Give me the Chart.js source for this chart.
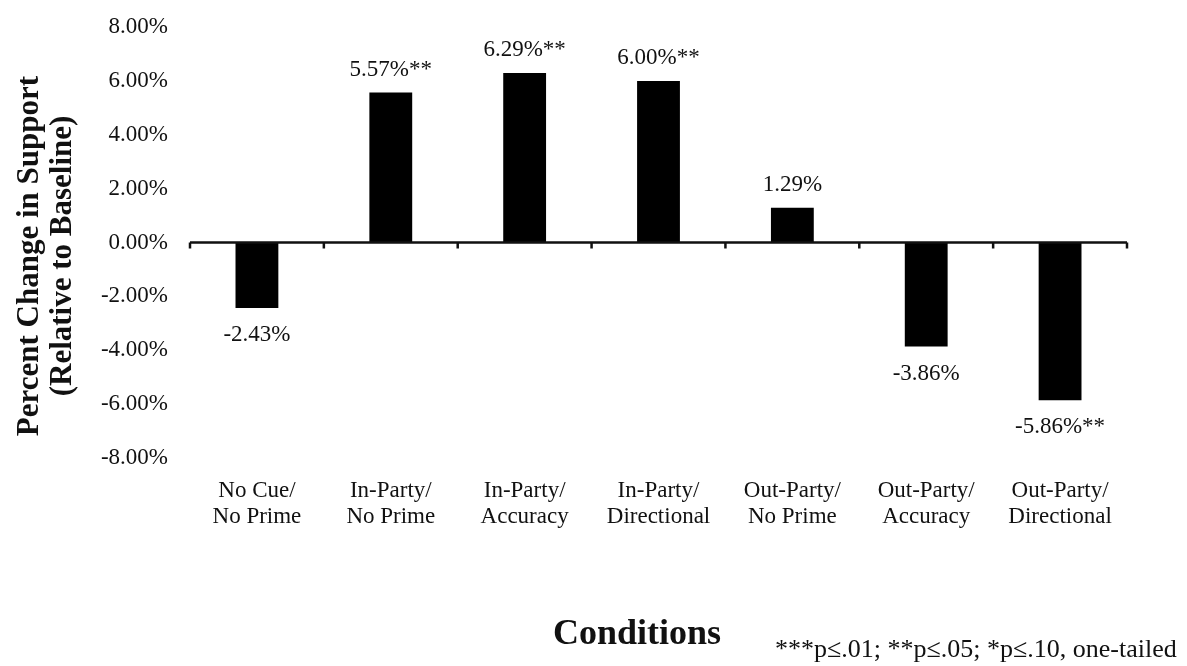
<!DOCTYPE html>
<html lang='en'>
<head>
  <meta charset='UTF-8'>
  <title>Percent Change in Support by Condition</title>
  <style>
    html, body { margin: 0; padding: 0; background: #fff; }
    #wrap { width: 1187px; height: 666px; position: relative; }
  </style>
  <script src="https://cdn.jsdelivr.net/npm/chart.js@4.4.1/dist/chart.umd.min.js"></script>
</head>
<body>
<div id="wrap"><canvas id="chart"></canvas></div>
<script>
  const categories = [
    ['No Cue/', 'No Prime'],
    ['In-Party/', 'No Prime'],
    ['In-Party/', 'Accuracy'],
    ['In-Party/', 'Directional'],
    ['Out-Party/', 'No Prime'],
    ['Out-Party/', 'Accuracy'],
    ['Out-Party/', 'Directional']
  ];
  const changes = [-2.43, 5.57, 6.29, 6.00, 1.29, -3.86, -5.86];
  const stars = ['', '**', '**', '**', '', '', '**'];
  const yTicks = [-8, -6, -4, -2, 0, 2, 4, 6, 8];
  const yTitle = ['Percent Change in Support', '(Relative to Baseline)'];
  const xTitle = 'Conditions';
  const footnote = '***p\u2264.01; **p\u2264.05; *p\u2264.10, one-tailed';

  const serif = "'Liberation Serif', 'Times New Roman', serif";
  Chart.defaults.font.family = serif;
  Chart.defaults.color = '#111';

  // zero line with category tick marks, bar value labels, titles and footnote
  const extras = {
    id: 'extras',
    afterDatasetsDraw(chart) {
      const { ctx, chartArea, scales } = chart;
      const y0 = scales.y.getPixelForValue(0);
      const step = (chartArea.right - chartArea.left) / categories.length;
      ctx.save();
      ctx.strokeStyle = '#111';
      ctx.lineWidth = 2.5;
      ctx.beginPath();
      ctx.moveTo(chartArea.left, y0);
      ctx.lineTo(chartArea.right, y0);
      for (let i = 0; i <= categories.length; i++) {
        const x = chartArea.left + i * step;
        ctx.moveTo(x, y0);
        ctx.lineTo(x, y0 + 6);
      }
      ctx.stroke();

      ctx.fillStyle = '#111';
      ctx.font = '23px ' + serif;
      ctx.textAlign = 'center';
      ctx.textBaseline = 'middle';
      chart.getDatasetMeta(0).data.forEach((bar, i) => {
        const v = changes[i];
        const txt = v.toFixed(2) + '%' + stars[i];
        const ty = v >= 0 ? bar.y - 23 : bar.y + 27;
        ctx.fillText(txt, bar.x, ty);
      });
      ctx.restore();
    },
    afterDraw(chart) {
      const { ctx } = chart;
      ctx.save();
      ctx.fillStyle = '#111';
      ctx.textBaseline = 'middle';
      ctx.textAlign = 'center';

      // y title, rotated
      ctx.save();
      ctx.translate(0, 256);
      ctx.rotate(-Math.PI / 2);
      ctx.font = 'bold 31px ' + serif;
      ctx.fillText(yTitle[0], 0, 30);
      ctx.fillText(yTitle[1], 0, 63);
      ctx.restore();

      ctx.font = 'bold 36px ' + serif;
      ctx.fillText(xTitle, 637, 635);
      ctx.textAlign = 'left';
      ctx.font = '26px ' + serif;
      ctx.fillText(footnote, 775, 650);
      ctx.restore();
    }
  };

  new Chart(document.getElementById('chart'), {
    type: 'bar',
    data: {
      labels: categories,
      datasets: [{
        data: changes,
        backgroundColor: '#000',
        borderWidth: 0,
        barPercentage: 0.32,
        categoryPercentage: 1
      }]
    },
    options: {
      responsive: true,
      maintainAspectRatio: false,
      animation: false,
      layout: { padding: { top: 27, right: 60, bottom: 0, left: 0 } },
      plugins: {
        legend: { display: false },
        tooltip: { enabled: false }
      },
      scales: {
        x: {
          grid: { display: false, drawTicks: false },
          border: { display: false },
          ticks: {
            padding: 20,
            maxRotation: 0,
            autoSkip: false,
            font: { size: 23, lineHeight: 1.13 },
            color: '#111'
          },
          afterFit(s) { s.height = 208; }
        },
        y: {
          min: -8,
          max: 8,
          grid: { display: false, drawTicks: false },
          border: { display: false },
          afterBuildTicks(s) { s.ticks = yTicks.map(v => ({ value: v })); },
          ticks: {
            padding: 22,
            font: { size: 23 },
            color: '#111',
            callback: v => v.toFixed(2) + '%'
          },
          afterFit(s) {
            s.width = 190;
            s.paddingTop = 0;
            s.paddingBottom = 0;
          }
        }
      }
    },
    plugins: [extras]
  });
</script>
</body>
</html>
